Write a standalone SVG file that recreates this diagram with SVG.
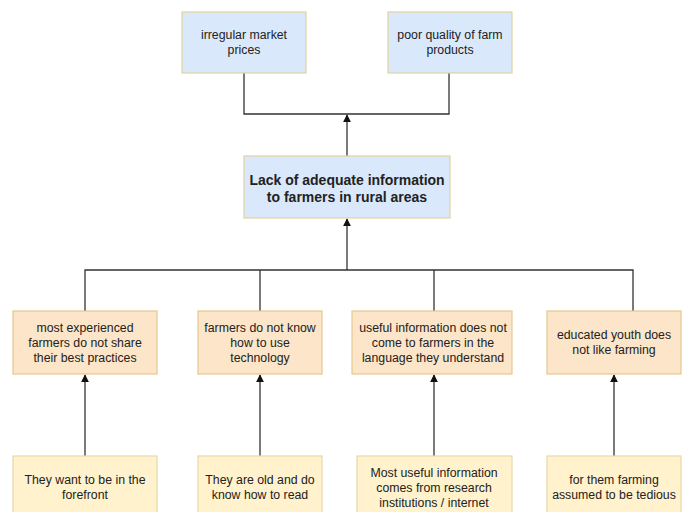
<svg xmlns="http://www.w3.org/2000/svg" width="686" height="512" viewBox="0 0 686 512">
<defs>
<marker id="arr" viewBox="0 0 10 10" refX="9" refY="5" markerWidth="8" markerHeight="8" markerUnits="userSpaceOnUse" orient="auto">
<path d="M0,0 L10,5 L0,10 Z" fill="#111"/>
</marker>
<style>
.blue{fill:#dae8fc;stroke:#e2d3a0;stroke-width:1.2}
.orange{fill:#fce5c8;stroke:#e5c98e;stroke-width:1.2}
.yellow{fill:#fff2cc;stroke:#e8d9a6;stroke-width:1.2}
text{font-family:"Liberation Sans",Arial,sans-serif;font-size:12.3px;fill:#222;text-anchor:middle}
.bold{font-size:14px;font-weight:bold}
.c{fill:none;stroke:#333;stroke-width:1.3}
</style>
</defs>
<rect width="686" height="512" fill="#ffffff"/>
<g id="connectors">
<polyline class="c" points="244,73 244,114 449,114 449,73"/>
<line class="c" x1="347" y1="156" x2="347" y2="115" marker-end="url(#arr)"/>
<polyline class="c" points="85,311 85,270 633,270 633,311"/>
<line class="c" x1="260" y1="270" x2="260" y2="311"/>
<line class="c" x1="434" y1="270" x2="434" y2="311"/>
<line class="c" x1="347" y1="270" x2="347" y2="219" marker-end="url(#arr)"/>
<line class="c" x1="85" y1="456" x2="85" y2="375" marker-end="url(#arr)"/>
<line class="c" x1="260" y1="456" x2="260" y2="375" marker-end="url(#arr)"/>
<line class="c" x1="434" y1="456" x2="434" y2="375" marker-end="url(#arr)"/>
<line class="c" x1="614" y1="456" x2="614" y2="375" marker-end="url(#arr)"/>
</g>
<g id="n-prices">
<rect class="blue" x="182" y="12" width="124" height="61"/>
<text x="244" y="39">irregular market</text>
<text x="244" y="54">prices</text>
</g>
<g id="n-quality">
<rect class="blue" x="388" y="12" width="124" height="61"/>
<text x="450" y="39">poor quality of farm</text>
<text x="450" y="54">products</text>
</g>
<g id="n-main">
<rect class="blue" x="244" y="156" width="206" height="62"/>
<text class="bold" x="347" y="185">Lack of adequate information</text>
<text class="bold" x="347" y="202">to farmers in rural areas</text>
</g>
<g id="n-experienced">
<rect class="orange" x="13" y="311" width="144" height="63"/>
<text x="85" y="332">most experienced</text>
<text x="85" y="347">farmers do not share</text>
<text x="85" y="362">their best practices</text>
</g>
<g id="n-technology">
<rect class="orange" x="198" y="311" width="124" height="63"/>
<text x="260" y="332">farmers do not know</text>
<text x="260" y="347">how to use</text>
<text x="260" y="362">technology</text>
</g>
<g id="n-language">
<rect class="orange" x="352" y="311" width="160" height="63"/>
<text x="433" y="332">useful information does not</text>
<text x="433" y="347">come to farmers in the</text>
<text x="433" y="362">language they understand</text>
</g>
<g id="n-youth">
<rect class="orange" x="547" y="311" width="134" height="63"/>
<text x="614" y="339">educated youth does</text>
<text x="614" y="354">not like farming</text>
</g>
<g id="n-forefront">
<rect class="yellow" x="13" y="456" width="144" height="70"/>
<text x="85" y="484">They want to be in the</text>
<text x="85" y="499">forefront</text>
</g>
<g id="n-old">
<rect class="yellow" x="198" y="456" width="124" height="70"/>
<text x="260" y="484">They are old and do</text>
<text x="260" y="499">know how to read</text>
</g>
<g id="n-research">
<rect class="yellow" x="357" y="456" width="155" height="70"/>
<text x="434" y="477">Most useful information</text>
<text x="434" y="492">comes from research</text>
<text x="434" y="507">institutions / internet</text>
</g>
<g id="n-tedious">
<rect class="yellow" x="547" y="456" width="134" height="70"/>
<text x="614" y="484">for them farming</text>
<text x="614" y="499">assumed to be tedious</text>
</g>
</svg>
